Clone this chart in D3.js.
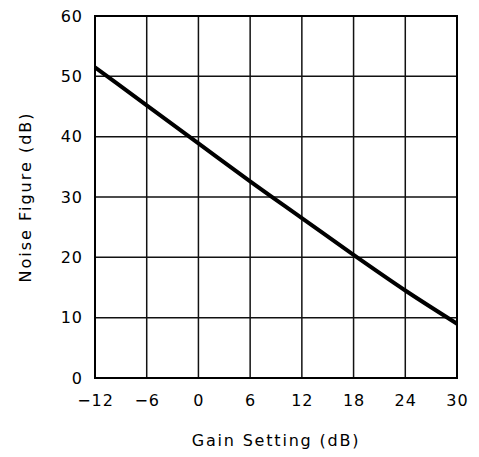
<!DOCTYPE html>
<html><head><meta charset="utf-8">
<script src="https://cdn.jsdelivr.net/npm/d3@7"></script>
<style>html,body{margin:0;padding:0;background:#fff;}svg{display:block;}</style>
</head><body>
<script>
const gainSetting = [-12, -6, 0, 6, 12, 18, 24, 30];
const noiseFigure = [51.5, 45.2, 38.9, 32.6, 26.5, 20.4, 14.5, 9.0];
const xTicks = [-12, -6, 0, 6, 12, 18, 24, 30];
const yTicks = [0, 10, 20, 30, 40, 50, 60];
const xTitle = "Gain Setting (dB)";
const yTitle = "Noise Figure (dB)";

const W = 479, H = 457;
const m = {left: 95, right: 479 - 457, top: 16, bottom: 457 - 378};
const svg = d3.select("body").append("svg").attr("width", W).attr("height", H);
const x = d3.scaleLinear().domain([-12, 30]).range([m.left, W - m.right]);
const y = d3.scaleLinear().domain([0, 60]).range([H - m.bottom, m.top]);
const font = "'DejaVu Sans', sans-serif";

// grid
svg.append("g").selectAll("line").data(xTicks).join("line")
  .attr("x1", d => x(d)).attr("x2", d => x(d)).attr("y1", y(0)).attr("y2", y(60))
  .attr("stroke", "#111").attr("stroke-width", 1.5);
svg.append("g").selectAll("line").data(yTicks).join("line")
  .attr("y1", d => y(d)).attr("y2", d => y(d)).attr("x1", x(-12)).attr("x2", x(30))
  .attr("stroke", "#111").attr("stroke-width", 1.5);
// frame
svg.append("rect").attr("x", x(-12)).attr("y", y(60))
  .attr("width", x(30) - x(-12)).attr("height", y(0) - y(60))
  .attr("fill", "none").attr("stroke", "#000").attr("stroke-width", 2);

// axes (labels only)
const xAxis = svg.append("g").attr("transform", `translate(0,${y(0)})`)
  .call(d3.axisBottom(x).tickValues(xTicks).tickSize(0).tickPadding(17)
    .tickFormat(d => d < 0 ? "\u2212" + Math.abs(d) : String(d)));
const yAxis = svg.append("g").attr("transform", `translate(${x(-12)},0)`)
  .call(d3.axisLeft(y).tickValues(yTicks).tickSize(0).tickPadding(12));
[xAxis, yAxis].forEach(g => {
  g.select(".domain").remove();
  g.selectAll("text").attr("font-family", font).attr("font-size", 16).attr("fill", "#000")
    .attr("letter-spacing", 1);
});

// line
const line = d3.line().x((d, i) => x(gainSetting[i])).y(d => y(d)).curve(d3.curveMonotoneX);
svg.append("path").datum(noiseFigure).attr("d", line)
  .attr("fill", "none").attr("stroke", "#000").attr("stroke-width", 4);

// titles
svg.append("text").attr("x", (x(-12) + x(30)) / 2).attr("y", 446)
  .attr("text-anchor", "middle").attr("font-family", font).attr("font-size", 16)
  .attr("letter-spacing", 1.8).text(xTitle);
svg.append("text").attr("transform", `translate(31,${(y(0) + y(60)) / 2}) rotate(-90)`)
  .attr("text-anchor", "middle").attr("font-family", font).attr("font-size", 16)
  .attr("letter-spacing", 2).text(yTitle);
</script>
</body></html>
